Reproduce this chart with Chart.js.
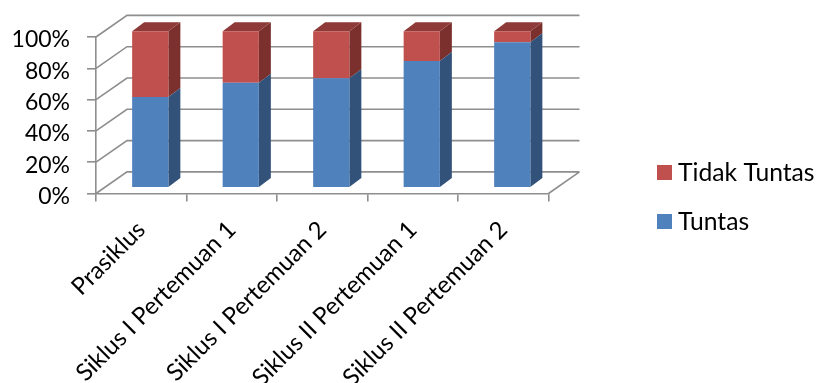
<!DOCTYPE html>
<html>
<head>
<meta charset="utf-8">
<title>Ketuntasan Belajar</title>
<script src="https://cdn.jsdelivr.net/npm/chart.js@4"></script>
<style>
  html, body { margin: 0; padding: 0; background: #fff; overflow: hidden; }
  canvas { display: block; }
</style>
</head>
<body>
<canvas id="chart" width="816" height="383"></canvas>
<script>
const categories = ['Prasiklus', 'Siklus I Pertemuan 1', 'Siklus I Pertemuan 2', 'Siklus II Pertemuan 1', 'Siklus II Pertemuan 2'];
const tuntas = [58, 67, 70, 81, 93];
const tidakTuntas = [42, 33, 30, 19, 7];
const yTicks = [0, 20, 40, 60, 80, 100];

const GRID = '#8e8e8e';
const TEXT = '#000';
const FONT = { family: 'Lato', size: 24 };

// how far the bars sit behind the axis plane, the depth of a bar, the depth of the floor
const barShift = { x: 9, y: -5.8 };
const barDepth = { x: 12, y: -9 };
const wallDepth = { x: 31, y: -21.6 };

// darker side and top colours for each series
const shades = [
  { side: '#325279', top: '#3a5f8c' },
  { side: '#7b302e', top: '#8e3a38' }
];

function poly(ctx, color, pts) {
  ctx.fillStyle = color;
  ctx.beginPath();
  pts.forEach((p, i) => i ? ctx.lineTo(p[0], p[1]) : ctx.moveTo(p[0], p[1]));
  ctx.closePath();
  ctx.fill();
}

const box3d = {
  id: 'box3d',

  // Lato sits high on the middle baseline, nudge the percent labels down
  beforeDraw(chart) {
    chart.scales.y.getLabelItems().forEach(item => { item.options.translation[1] += 3; });
  },

  // back wall and floor
  beforeDatasetsDraw(chart) {
    const { ctx, chartArea: a, scales: { y } } = chart;
    ctx.save();
    ctx.strokeStyle = GRID;
    ctx.lineWidth = 1.6;
    ctx.beginPath();
    yTicks.forEach(v => {
      const py = y.getPixelForValue(v);
      ctx.moveTo(a.left, py);
      ctx.lineTo(a.left + wallDepth.x, py + wallDepth.y);
      ctx.lineTo(a.right + wallDepth.x, py + wallDepth.y);
    });
    ctx.moveTo(a.right, a.bottom);
    ctx.lineTo(a.right + wallDepth.x, a.bottom + wallDepth.y);
    ctx.stroke();
    ctx.restore();
  },

  // the front face is drawn by Chart.js, the side and top faces come from the same element
  beforeDatasetDraw(chart, args) {
    const { ctx } = chart;
    const last = chart.data.datasets.length - 1;
    const dx = barDepth.x, dy = barDepth.y;
    ctx.save();
    ctx.translate(barShift.x, barShift.y);
    args.meta.data.forEach(bar => {
      const l = bar.x - bar.width / 2, r = bar.x + bar.width / 2;
      poly(ctx, shades[args.index].side, [[r, bar.y], [r + dx, bar.y + dy], [r + dx, bar.base + dy], [r, bar.base]]);
      if (args.index === last) {
        poly(ctx, shades[args.index].top, [[l, bar.y], [l + dx, bar.y + dy], [r + dx, bar.y + dy], [r, bar.y]]);
      }
    });
  },

  afterDatasetDraw(chart) {
    chart.ctx.restore();
  },

  // legend beside the plot, top series first
  afterDraw(chart) {
    const { ctx } = chart;
    ctx.save();
    ctx.font = '24.7px ' + FONT.family;
    ctx.textBaseline = 'middle';
    chart.data.datasets.slice().reverse().forEach((ds, i) => {
      const top = 165 + i * 49;
      ctx.fillStyle = ds.backgroundColor;
      ctx.fillRect(657, top, 15, 15);
      ctx.fillStyle = TEXT;
      ctx.fillText(ds.label, 678, top + 8);
    });
    ctx.restore();
  }
};

new Chart(document.getElementById('chart'), {
  type: 'bar',
  plugins: [box3d],
  data: {
    labels: categories,
    datasets: [
      { label: 'Tuntas', data: tuntas, backgroundColor: '#4f81bd', clip: false },
      { label: 'Tidak Tuntas', data: tidakTuntas, backgroundColor: '#c0504d', clip: false }
    ]
  },
  options: {
    responsive: false,
    animation: false,
    events: [],
    layout: { padding: { top: 37, right: 267.5, left: 0, bottom: 0 } },
    datasets: { bar: { categoryPercentage: 1, barPercentage: 0.4 } },
    plugins: {
      tooltip: { enabled: false },
      legend: { display: false }
    },
    scales: {
      x: {
        stacked: true,
        afterFit(s) { s.height = 189.5; },
        border: { color: GRID, width: 1.6 },
        grid: { drawOnChartArea: false, color: GRID, lineWidth: 1.6, tickLength: 8 },
        ticks: { autoSkip: false, minRotation: 45, maxRotation: 45, padding: 14, color: TEXT, font: FONT }
      },
      y: {
        stacked: true,
        min: 0,
        max: 100,
        afterBuildTicks(s) { s.ticks = yTicks.map(value => ({ value })); },
        afterFit(s) { s.width = 96; },
        border: { color: GRID, width: 1.6 },
        grid: { drawOnChartArea: false, color: GRID, lineWidth: 1.6, tickLength: 9 },
        ticks: { padding: 17, color: TEXT, font: { family: 'Lato', size: 23 }, callback: v => v + '%' }
      }
    }
  }
});
</script>
</body>
</html>
